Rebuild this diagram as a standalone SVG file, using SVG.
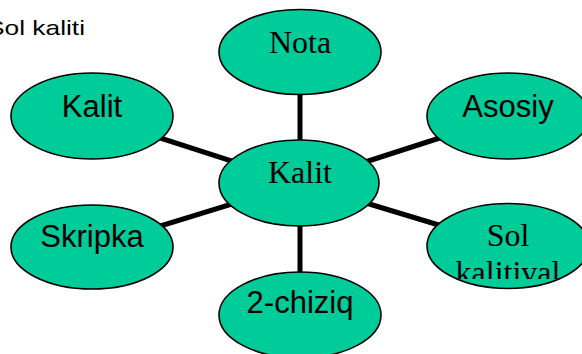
<svg xmlns="http://www.w3.org/2000/svg" width="582" height="354" viewBox="0 0 582 354">
<style>
.node ellipse{fill:#00CC99;stroke:#000;stroke-width:1.6}
.sans{font-family:"Liberation Sans",Arial,sans-serif;font-size:31px;fill:#000;text-anchor:middle}
.serif{font-family:"Liberation Serif","Times New Roman",serif;font-size:32px;fill:#000;text-anchor:middle}
#connectors line{stroke:#000;stroke-width:5}
</style>
<defs>
<clipPath id="solclip"><rect x="420" y="200" width="170" height="79"/></clipPath>
</defs>
<rect width="582" height="354" fill="#fff"/>
<text x="-13" y="35" font-family="Liberation Sans, Arial, sans-serif" font-size="21" textLength="98" lengthAdjust="spacingAndGlyphs">Sol kaliti</text>
<g id="connectors">
<line x1="300" y1="52" x2="300" y2="183"/>
<line x1="300" y1="183" x2="300" y2="315"/>
<line x1="92" y1="116" x2="300" y2="183"/>
<line x1="92" y1="247" x2="300" y2="183"/>
<line x1="508" y1="116" x2="300" y2="183"/>
<line x1="508" y1="246" x2="300" y2="183"/>
</g>
<g id="nota" class="node"><ellipse cx="300" cy="52" rx="81" ry="42.5"/><text class="serif" x="300" y="53">Nota</text></g>
<g id="kalit-center" class="node"><ellipse cx="299" cy="183" rx="80" ry="43"/><text class="serif" x="300" y="183">Kalit</text></g>
<g id="kalit" class="node"><ellipse cx="92" cy="116" rx="81" ry="43"/><text class="sans" x="92" y="117">Kalit</text></g>
<g id="asosiy" class="node"><ellipse cx="508" cy="116" rx="81" ry="43"/><text class="sans" x="508" y="117">Asosiy</text></g>
<g id="skripka" class="node"><ellipse cx="92" cy="247" rx="81" ry="42"/><text class="sans" x="92" y="247">Skripka</text></g>
<g id="sol" class="node"><ellipse cx="508" cy="246" rx="81" ry="42.5"/><text class="serif" x="508" y="246">Sol</text><text class="serif" x="508" y="283" clip-path="url(#solclip)">kalitival</text></g>
<g id="chiziq" class="node"><ellipse cx="300" cy="315" rx="81" ry="43"/><text class="sans" x="300" y="313">2-chiziq</text></g>
</svg>
